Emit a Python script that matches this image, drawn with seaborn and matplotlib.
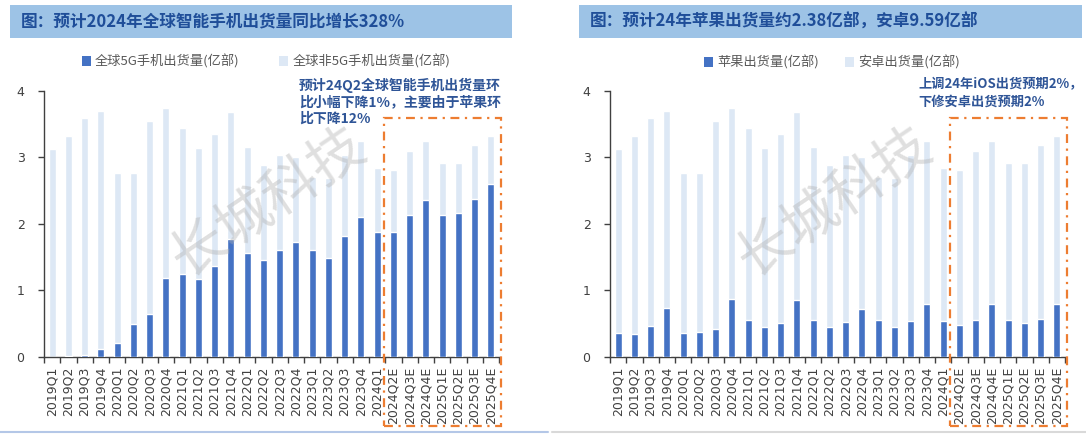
import numpy as np
import seaborn as sns
import matplotlib.pyplot as plt
from matplotlib.patches import Rectangle, Patch
from matplotlib.lines import Line2D
from matplotlib.ticker import FixedLocator
import matplotlib.transforms as mtransforms

# quarters (E = estimate)
quarters = ['2019Q1', '2019Q2', '2019Q3', '2019Q4',
            '2020Q1', '2020Q2', '2020Q3', '2020Q4',
            '2021Q1', '2021Q2', '2021Q3', '2021Q4',
            '2022Q1', '2022Q2', '2022Q3', '2022Q4',
            '2023Q1', '2023Q2', '2023Q3', '2023Q4',
            '2024Q1', '2024Q2E', '2024Q3E', '2024Q4E',
            '2025Q1E', '2025Q2E', '2025Q3E', '2025Q4E']

# total smartphone shipments (亿部), top of each stacked bar
total_ship = [3.13, 3.32, 3.59, 3.70, 2.76, 2.77, 3.55, 3.75,
              3.45, 3.14, 3.35, 3.68, 3.15, 2.88, 3.04, 3.01,
              2.70, 2.69, 3.03, 3.25, 2.84, 2.81, 3.10, 3.25,
              2.91, 2.92, 3.18, 3.33]

# 5G phone shipments (亿部)
ship_5g = [0.0, 0.005, 0.02, 0.11, 0.21, 0.49, 0.64, 1.19,
           1.24, 1.17, 1.36, 1.77, 1.56, 1.45, 1.61, 1.73,
           1.60, 1.48, 1.82, 2.11, 1.87, 1.87, 2.14, 2.36,
           2.14, 2.16, 2.38, 2.60]

# Apple shipments (亿部)
ship_apple = [0.36, 0.34, 0.46, 0.73, 0.36, 0.37, 0.41, 0.87,
              0.55, 0.44, 0.51, 0.85, 0.56, 0.45, 0.52, 0.72,
              0.55, 0.44, 0.54, 0.80, 0.54, 0.48, 0.56, 0.79,
              0.56, 0.50, 0.57, 0.80]

first_forecast = 21

dark = '#4472C4'
light = '#DDE8F5'
orange = '#ED7D31'
title_bg = '#9DC3E6'
title_fg = '#1F4E99'
note_fg = '#2F5597'

sns.set_style('white')
plt.rcParams['font.family'] = ['Noto Sans CJK SC', 'DejaVu Sans']

W, H = 1086, 434
fig = plt.figure(figsize=(W / 100, H / 100), dpi=100)


def px(x, y):
    # pixel (from top-left) -> figure fraction
    return x / W, 1 - y / H


def draw_panel(ax, fore, fore_label, back_label):
    sns.barplot(x=quarters, y=total_ship, color=light, saturation=1,
                width=0.42, ax=ax, zorder=2)
    sns.barplot(x=quarters, y=fore, color=dark, saturation=1,
                width=0.42, ax=ax, zorder=3)
    ax.set_ylim(0, 4)
    ax.set_xlim(-0.5, len(quarters) - 0.5)
    ax.set_yticks([0, 1, 2, 3, 4])
    ax.tick_params(axis='y', length=4, width=1, color='#404040',
                   labelsize=9, labelcolor='#404040', pad=10, left=True)
    ax.tick_params(axis='x', which='major', length=0, labelsize=9,
                   labelcolor='#404040', rotation=90, pad=7)
    ax.xaxis.set_minor_locator(FixedLocator(np.arange(-0.5, len(quarters), 1)))
    ax.tick_params(axis='x', which='minor', length=4, width=1,
                   color='#404040', bottom=True)
    for lab in ax.get_xticklabels():
        lab.set_family('DejaVu Sans')
    for lab in ax.get_yticklabels():
        lab.set_family('DejaVu Sans')
    sns.despine(ax=ax)
    for s in ['left', 'bottom']:
        ax.spines[s].set_color('#404040')
        ax.spines[s].set_linewidth(1)
    ax.set_xlabel('')
    ax.set_ylabel('')

    # dash-dot box around the forecast quarters
    trans = mtransforms.blended_transform_factory(ax.transData, ax.transAxes)
    x0 = first_forecast - 0.57
    x1 = len(quarters) - 1 + 0.6
    box = Rectangle((x0, -0.26), x1 - x0, 1.16, transform=trans,
                    fill=False, edgecolor=orange, lw=1.6,
                    linestyle=(0, (4, 2.5, 1, 2.5)), clip_on=False, zorder=5)
    ax.add_patch(box)

    handles = [Patch(facecolor=dark, edgecolor='none', label=fore_label),
               Patch(facecolor=light, edgecolor='none', label=back_label)]
    return handles


# ---- left panel
ax1 = fig.add_axes([*px(44, 356.7), 455 / W, 265.7 / H])
h1 = draw_panel(ax1, ship_5g, '全球5G手机出货量(亿部)', '全球非5G手机出货量(亿部)')

# ---- right panel
ax2 = fig.add_axes([*px(610, 356.7), 455 / W, 265.7 / H])
h2 = draw_panel(ax2, ship_apple, '苹果出货量(亿部)', '安卓出货量(亿部)')

# title bars
fig.patches.append(Rectangle(px(10, 38), 502 / W, 33 / H, transform=fig.transFigure,
                             facecolor=title_bg, edgecolor='none', zorder=0))
fig.patches.append(Rectangle(px(579, 38), 503 / W, 33 / H, transform=fig.transFigure,
                             facecolor=title_bg, edgecolor='none', zorder=0))
fig.text(*px(21, 21.5), '图：预计2024年全球智能手机出货量同比增长328%',
         fontsize=12, fontweight='bold', color=title_fg, va='center', ha='left')
fig.text(*px(590, 21.5), '图：预计24年苹果出货量约2.38亿部，安卓9.59亿部',
         fontsize=12, fontweight='bold', color=title_fg, va='center', ha='left')

# legends
fig.legend(handles=h1, loc='center', bbox_to_anchor=px(266, 61.5), ncol=2,
           frameon=False, fontsize=9.5, handlelength=0.7, handleheight=0.7,
           handletextpad=0.3, columnspacing=3.0, labelcolor='#595959')
fig.legend(handles=h2, loc='center', bbox_to_anchor=px(832, 62.5), ncol=2,
           frameon=False, fontsize=9.5, handlelength=0.7, handleheight=0.7,
           handletextpad=0.3, columnspacing=2.0, labelcolor='#595959')

# annotations
fig.text(*px(299, 78), '预计24Q2全球智能手机出货量环\n比小幅下降1%，主要由于苹果环\n比下降12%',
         fontsize=10, fontweight='bold', color=note_fg, va='top', ha='left',
         linespacing=1.2)
fig.text(*px(918, 77), '上调24年iOS出货预期2%，\n下修安卓出货预期2%',
         fontsize=9.5, fontweight='bold', color=note_fg, va='top', ha='left',
         linespacing=1.3)

# watermarks
for cx in (268, 834):
    fig.text(*px(cx, 202), '长城科技', fontsize=40, rotation=34, color='#b0b0b0',
             alpha=0.4, ha='center', va='center', zorder=10)

# bottom rules
fig.add_artist(Line2D([0, 548 / W], [1 - 432 / H] * 2, color='#B4C7E7', lw=1.5))
fig.add_artist(Line2D([552 / W, 1], [1 - 432 / H] * 2, color='#D9D9D9', lw=1.5))

fig.savefig('out.png', dpi=100)
